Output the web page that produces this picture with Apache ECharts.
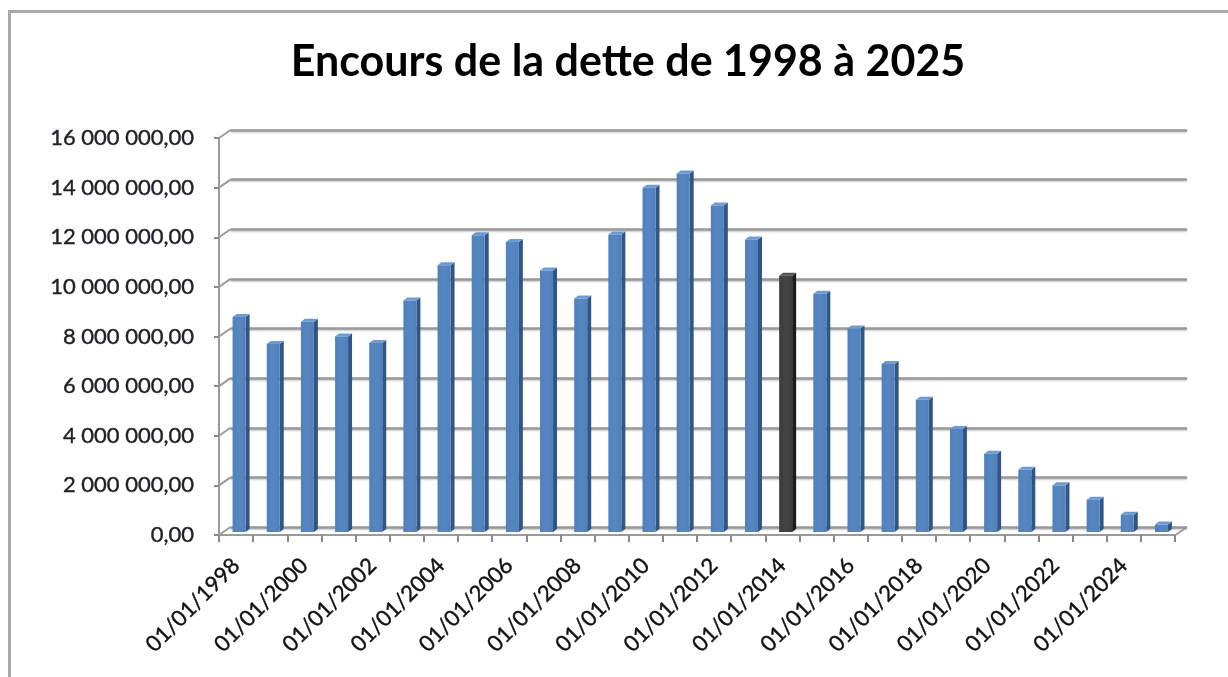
<!DOCTYPE html>
<html>
<head>
<meta charset="utf-8">
<script src="https://cdn.jsdelivr.net/npm/echarts@6/dist/echarts.min.js"></script>
<style>
  html, body { margin: 0; padding: 0; background: #fff; }
  #chart { width: 1228px; height: 677px; }
</style>
</head>
<body>
<div id="chart"></div>
<script>
// dates (1er janvier de chaque annee)
var categories = [
  '01/01/1998', '01/01/1999', '01/01/2000', '01/01/2001', '01/01/2002', '01/01/2003', '01/01/2004',
  '01/01/2005', '01/01/2006', '01/01/2007', '01/01/2008', '01/01/2009', '01/01/2010', '01/01/2011',
  '01/01/2012', '01/01/2013', '01/01/2014', '01/01/2015', '01/01/2016', '01/01/2017', '01/01/2018',
  '01/01/2019', '01/01/2020', '01/01/2021', '01/01/2022', '01/01/2023', '01/01/2024', '01/01/2025'
];
// encours de la dette
var encours = [
  8660000, 7580000, 8470000, 7880000, 7620000, 9330000, 10750000,
  11960000, 11690000, 10540000, 9410000, 11990000, 13870000, 14450000,
  13160000, 11790000, 10330000, 9600000, 8200000, 6770000, 5330000,
  4150000, 3150000, 2510000, 1880000, 1300000, 700000, 300000
];
var anneeCourante = '01/01/2014';
var yTicks = [0, 2000000, 4000000, 6000000, 8000000, 10000000, 12000000, 14000000, 16000000];

var FONT = 'Lato';
// decalage 3D entre le mur du fond et l'avant
var DX = -11.5, DY = 8;

function fmtFr(v) {
  var s = v.toFixed(2).split('.');
  var ent = s[0].replace(/\B(?=(\d{3})+(?!\d))/g, ' ');
  return ent + ',' + s[1];
}

function renderBar(params, api) {
  var i = api.value(0);
  var cat = categories[i];
  var top = api.coord([i, api.value(1)]);
  var base = api.coord([i, 0]);
  var cx = top[0] - 8.5, ty = top[1] + 5, by = base[1] + 5;
  var hw = 6.5, dep = 4, rise = 3;
  var front = '#4f81bd', side = '#2f5685', cap = '#6d9bd4';
  if (cat == anneeCourante) { front = '#3b3b3b'; side = '#1c1c1c'; cap = '#555'; }
  return {
    type: 'group',
    children: [
      { type: 'polygon', shape: { points: [[cx + hw, ty], [cx + hw + dep, ty - rise], [cx + hw + dep, by - rise], [cx + hw, by]] },
        style: { fill: side } },
      { type: 'polygon', shape: { points: [[cx - hw, ty], [cx - hw + dep, ty - rise], [cx + hw + dep, ty - rise], [cx + hw, ty]] },
        style: { fill: cap } },
      { type: 'rect', shape: { x: cx - hw, y: ty, width: hw * 2, height: by - ty },
        style: { fill: new echarts.graphic.LinearGradient(0, 0, 1, 0, [
          { offset: 0, color: front }, { offset: 0.5, color: echarts.color.lift(front, 0.05) }, { offset: 1, color: front }]) } }
    ]
  };
}

// diagonales du mur gauche et du sol
function renderWall(params, api) {
  var cs = params.coordSys;
  var p = api.coord([0, api.value(1)]);
  var kids = [
    { type: 'line', shape: { x1: cs.x, y1: p[1], x2: cs.x + DX, y2: p[1] + DY },
      style: { stroke: '#9a9a9a', lineWidth: 2 } }
  ];
  if (api.value(1) == 0) {
    kids.push({ type: 'line', shape: { x1: cs.x + cs.width, y1: p[1], x2: cs.x + cs.width + DX, y2: p[1] + DY },
      style: { stroke: '#9a9a9a', lineWidth: 2 } });
  }
  return { type: 'group', children: kids };
}

var chart = echarts.init(document.getElementById('chart'));
var option = {
  backgroundColor: '#fff',
  animation: false,
  title: {
    text: 'Encours de la dette de 1998 à 2025',
    left: 623,
    textAlign: 'center',
    top: 36,
    textStyle: { fontFamily: FONT, fontSize: 43, fontWeight: 'bold', color: '#000' }
  },
  graphic: [
    { type: 'rect', shape: { x: 9.5, y: 11.5, width: 1400, height: 900 },
      style: { fill: 'none', stroke: '#a9a9a9', lineWidth: 3 }, silent: true }
  ],
  grid: [
    { left: 230.5, right: 41, top: 130, bottom: 150 },   // mur du fond
    { left: 219, right: 53, top: 138, bottom: 142 }      // plan avant
  ],
  xAxis: [
    { type: 'category', gridIndex: 0, data: categories, show: false },
    { type: 'category', gridIndex: 1, data: categories,
      axisLine: { lineStyle: { color: '#9a9a9a', width: 2 } },
      axisTick: { show: true, length: 7, interval: 0, lineStyle: { color: '#8a8a8a', width: 2 } },
      axisLabel: { interval: 1, rotate: 45, margin: 27, fontFamily: FONT, fontSize: 22, color: '#111',
        textBorderColor: '#111', textBorderWidth: 0.4 } }
  ],
  yAxis: [
    { type: 'value', gridIndex: 0, min: 0, max: 16000000, interval: 2000000,
      axisLine: { show: false }, axisTick: { show: false }, axisLabel: { show: false },
      splitLine: { lineStyle: { color: '#999', width: 2.5, shadowColor: 'rgba(0,0,0,0.25)', shadowBlur: 2, shadowOffsetY: 1 } } },
    { type: 'value', gridIndex: 1, min: 0, max: 16000000, interval: 2000000,
      axisLine: { show: true, lineStyle: { color: '#9a9a9a', width: 2 } },
      axisTick: { show: true, length: 5, lineStyle: { color: '#8a8a8a', width: 2 } },
      splitLine: { show: false },
      axisLabel: { margin: 25, fontFamily: FONT, fontSize: 22, color: '#1f1f2a',
        textBorderColor: '#1f1f2a', textBorderWidth: 0.4, formatter: fmtFr } }
  ],
  series: [
    { type: 'custom', name: 'mur', xAxisIndex: 0, yAxisIndex: 0, silent: true,
      renderItem: renderWall, data: yTicks.map(function (v) { return [0, v]; }) },
    { type: 'custom', name: 'Encours', xAxisIndex: 0, yAxisIndex: 0,
      renderItem: renderBar, encode: { x: 0, y: 1 },
      data: encours.map(function (v, i) { return [i, v]; }) }
  ]
};
chart.setOption(option);
</script>
</body>
</html>
